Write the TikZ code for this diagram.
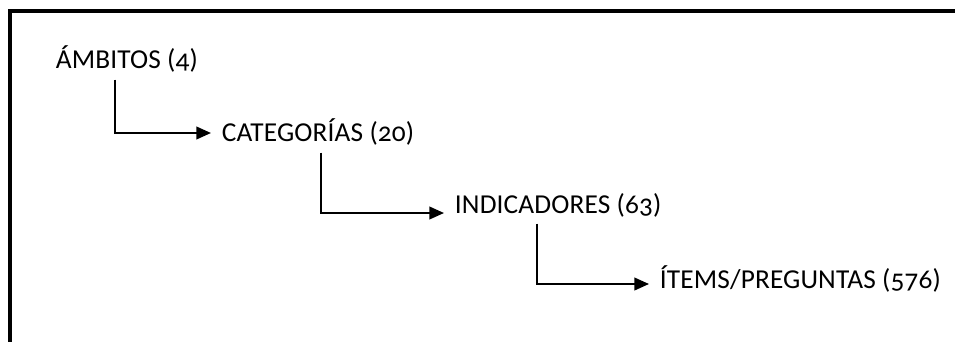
\documentclass[tikz,border=0pt]{standalone}
\usepackage{fontspec}
\setmainfont{Carlito}[Numbers=OldStyle,LetterSpace=0.5]
\usetikzlibrary{arrows.meta,calc}

\begin{document}
\begin{tikzpicture}[x=0.75pt,y=-0.75pt,
    level/.style={anchor=base west,inner xsep=8pt,inner ysep=5pt,font=\fontsize{20.5}{24}\selectfont},
    link/.style={line width=1.5pt,-{Triangle[length=11pt,width=9.5pt]}}]
      \useasboundingbox (0,0) rectangle (955,342);
      \clip (0,0) rectangle (955,342);
      \draw[line width=2.5pt] (10,360) |- (970,11);
      \node[level] (amb) at (45,69) {ÁMBITOS (4)};
      \node[level] (cat) at (211,142) {CATEGORÍAS (20)};
      \node[level] (ind) at (444,213) {INDICADORES (63)};
      \node[level] (ite) at (649,288) {ÍTEMS/PREGUNTAS (576)};
      \draw[link] ($(amb.south west)+(70,0)$) |- ([yshift=6.75pt]cat.base west);
      \draw[link] ($(cat.south west)+(110,0)$) |- (ind.base west);
      \draw[link] ($(ind.south west)+(93,0)$) |- ([yshift=3pt]ite.base west);
    \end{tikzpicture}
\end{document}
